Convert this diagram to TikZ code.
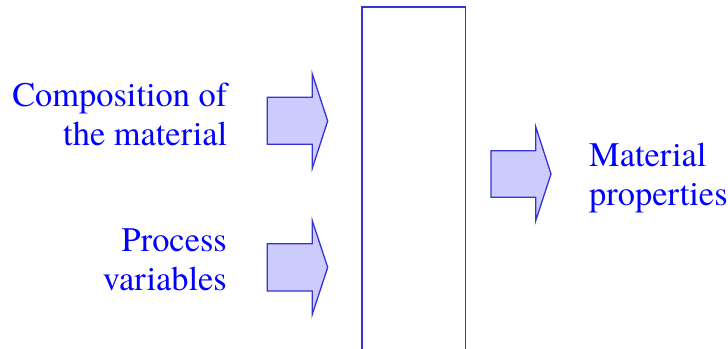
\documentclass[tikz,border=0pt]{standalone}
\usepackage{fontspec}
\newfontfamily\lblfont{TeX Gyre Termes}
\definecolor{txtblue}{RGB}{0,0,255}
\definecolor{lineblue}{RGB}{51,51,215}
\definecolor{arrowfill}{RGB}{204,204,255}
\begin{document}
\begin{tikzpicture}[x=1pt,y=-1pt,
  lbl/.style={text=txtblue,inner sep=0pt,font=\lblfont\fontsize{34.4}{39}\selectfont},
  blockarrow/.style={draw=lineblue,fill=arrowfill,line width=1.3pt,line join=miter},
  frame/.style={draw=lineblue,line width=1.3pt}]
\useasboundingbox (0,0) rectangle (728,348);
% labels (anchor = baseline of the last line)
\node[lbl,align=right,anchor=base east] (comp) at (227.5,145) {Composition of\\the material};
\node[lbl,align=right,anchor=base east] (proc) at (227,290) {Process\\variables};
\node[lbl,align=left,anchor=base west] (prop) at (589,205) {Material\\properties};
% tall box (open at the bottom edge of the picture)
\draw[frame] (362,349) -- (362,7) -- (465.5,7) -- (465.5,349);
% block arrows
\draw[blockarrow] (267.3,97.3) -- (312.3,97.3) -- (312.3,74) -- (327.7,121) -- (312.3,168.3) -- (312.3,144.3) -- (267.3,144.3) -- cycle;
\draw[blockarrow] (267.3,243.7) -- (312.3,243.7) -- (312.3,220.7) -- (327.7,267.3) -- (312.3,314.3) -- (312.3,291) -- (267.3,291) -- cycle;
\draw[blockarrow] (491,150.7) -- (535.7,150.7) -- (535.7,126.7) -- (551,174) -- (535.7,220.7) -- (535.7,197.3) -- (491,197.3) -- cycle;
\end{tikzpicture}
\end{document}
